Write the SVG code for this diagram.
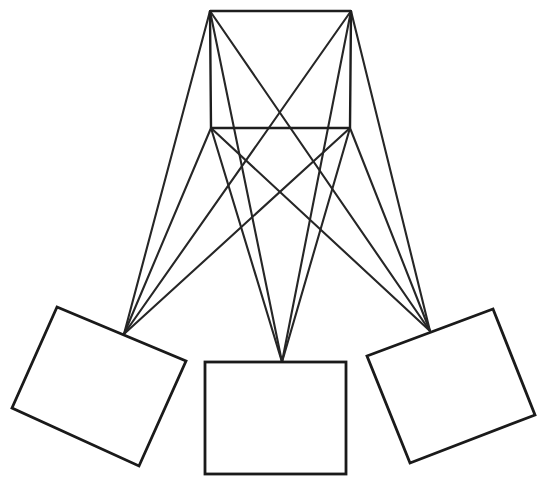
<svg xmlns="http://www.w3.org/2000/svg" width="537" height="477" viewBox="0 0 537 477">
<style>
.box{fill:none;stroke:#1a1a1a;stroke-width:2.8;stroke-linejoin:miter}
.frame{fill:none;stroke:#1e1e1e;stroke-width:2.4}
.c{stroke:#262626;stroke-width:2.1;fill:none;stroke-linecap:round}
</style>
<rect width="537" height="477" fill="#fff"/>
<g id="connectors">
<line class="c" x1="210" y1="11" x2="124" y2="334"/>
<line class="c" x1="210" y1="11" x2="282" y2="362"/>
<line class="c" x1="210" y1="11" x2="430" y2="331"/>
<line class="c" x1="351" y1="11" x2="124" y2="334"/>
<line class="c" x1="351" y1="11" x2="282" y2="362"/>
<line class="c" x1="351" y1="11" x2="430" y2="331"/>
<line class="c" x1="211" y1="128" x2="124" y2="334"/>
<line class="c" x1="211" y1="128" x2="282" y2="362"/>
<line class="c" x1="211" y1="128" x2="430" y2="331"/>
<line class="c" x1="350" y1="128" x2="124" y2="334"/>
<line class="c" x1="350" y1="128" x2="282" y2="362"/>
<line class="c" x1="350" y1="128" x2="430" y2="331"/>
</g>
<g id="top">
<path class="frame" d="M210 11 H351 M211 128 H350 M210 11 L211 128 M351 11 L350 128"/>
</g>
<g id="left">
<polygon class="box" points="57,307 186,361 139,466 12,408"/>
</g>
<g id="middle">
<rect class="box" x="205" y="362" width="141" height="112"/>
</g>
<g id="right">
<polygon class="box" points="367,356 493,309 535,415 410,463"/>
</g>
</svg>
